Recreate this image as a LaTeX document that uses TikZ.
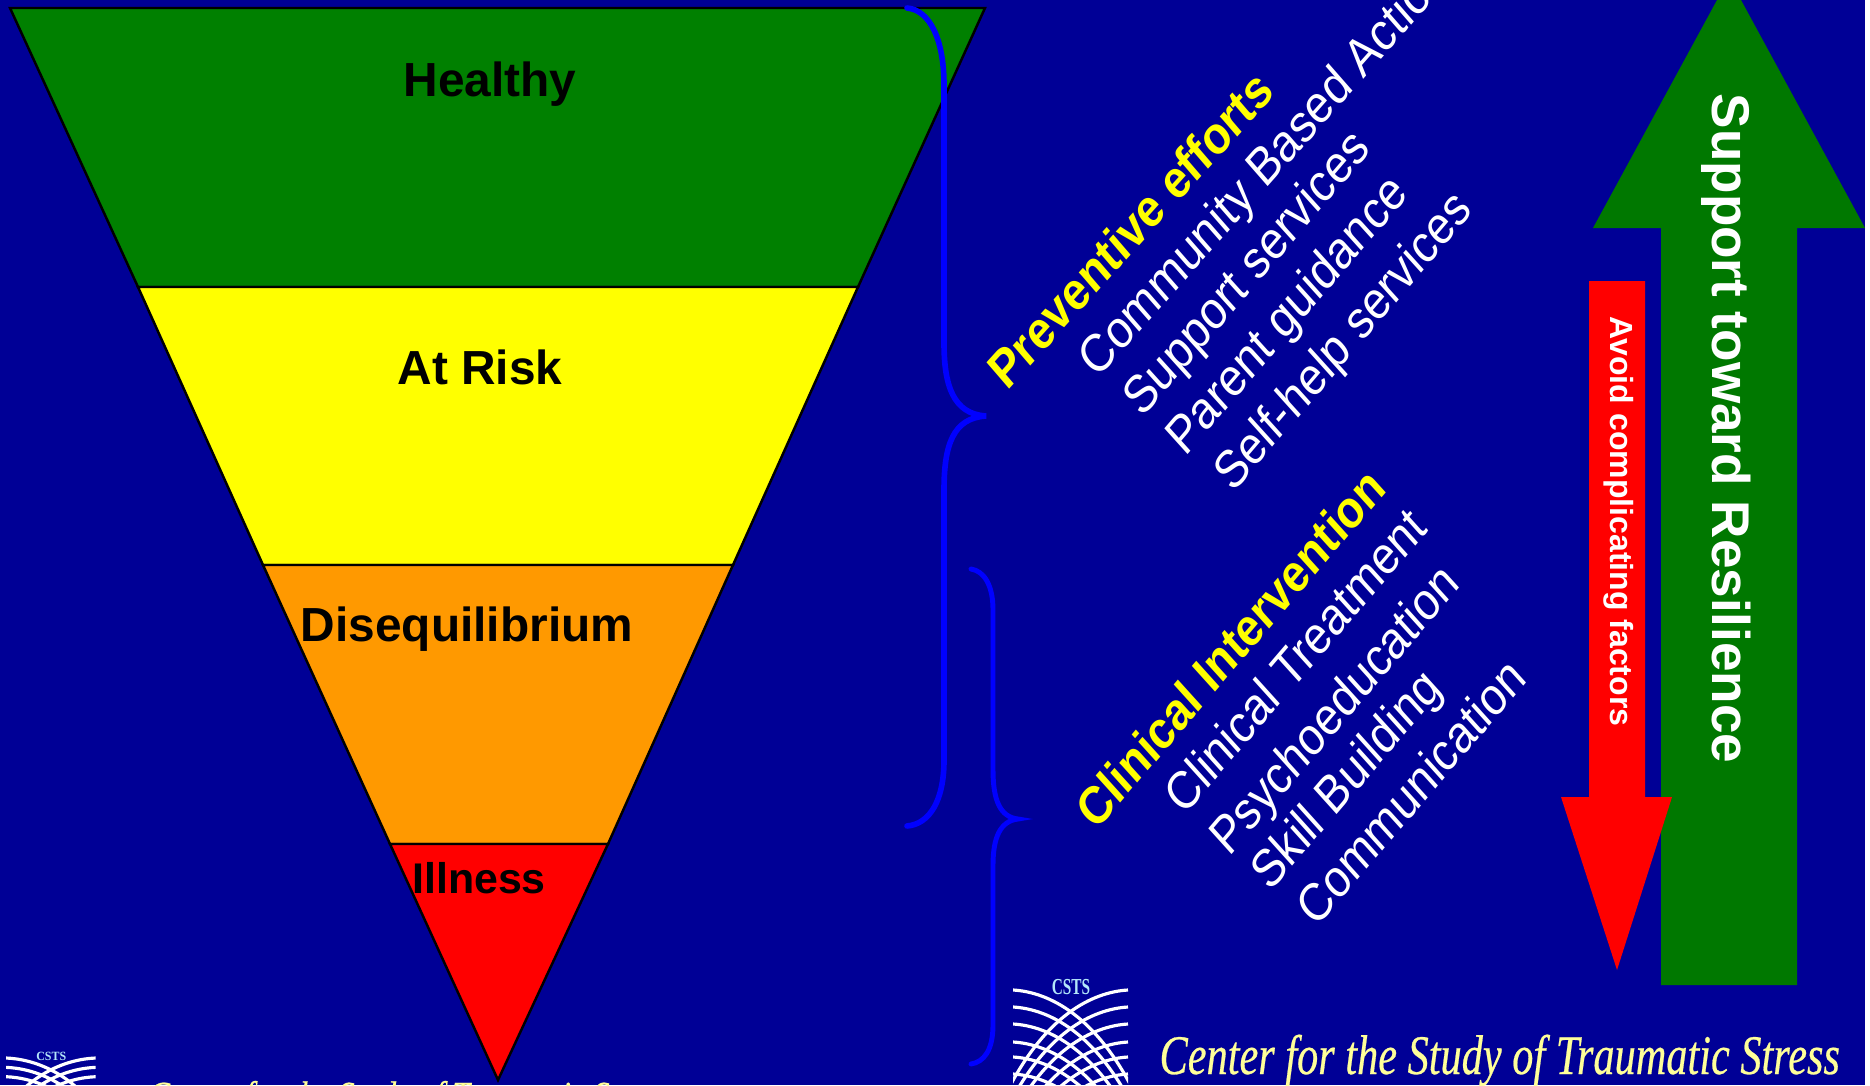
\documentclass[tikz,border=0pt]{standalone}
\usepackage{fontspec}
\setmainfont{Liberation Sans}
\newfontfamily\cstsfont[FakeBold=0.5]{Liberation Serif}
\newfontfamily\cstsmark{Liberation Serif}
\definecolor{slideblue}{RGB}{0,0,150}
\definecolor{bandgreen}{RGB}{0,128,0}
\definecolor{bandyellow}{RGB}{255,255,0}
\definecolor{bandorange}{RGB}{255,153,0}
\definecolor{cstsyellow}{RGB}{255,255,153}
\tikzset{
  band/.style={draw=black,line width=0.7pt},
  bandlabel/.style={font=\fontsize{13.6}{16}\selectfont\bfseries,text=black,inner sep=0pt},
  bracket/.style={draw=blue,line width=1.6pt,line cap=round,fill=none},
  heading/.style={font=\fontsize{14.2}{17}\selectfont\bfseries,text=bandyellow,rotate=49.5,xslant=0.13,xscale=0.94,transform shape,anchor=base west,inner sep=0pt},
  entry/.style={font=\fontsize{14.2}{17}\selectfont,text=white,rotate=49.5,xslant=0.13,xscale=0.94,transform shape,anchor=base west,inner sep=0pt},
  cstsline/.style={font=\fontsize{15.9}{19}\selectfont\cstsfont\itshape,text=cstsyellow,anchor=base west,inner sep=0pt,transform shape},
  cstslogo/.pic={
    \begin{scope}
      \clip (0,-6) rectangle (115,120);
      \foreach \k in {0,17,34,52,67,84} {
        \draw[white,line width=0.9pt] (0,\k) .. controls (35,\k+2) and (85,\k+25) .. (125,\k+110);
        \draw[white,line width=0.9pt] (115,\k) .. controls (80,\k+2) and (30,\k+25) .. (-10,\k+110);
      }
    \end{scope}
    \node[font=\fontsize{6.5}{8}\selectfont\cstsmark\bfseries,text=white!70!cyan,inner sep=0pt,xscale=0.67,transform shape] (-name) at (58,-3) {CSTS};
  }
}
\begin{document}
\begin{tikzpicture}[x=0.01cm,y=-0.01cm]
  \useasboundingbox (0,0) rectangle (1870,1085);
  \fill[white] (0,0) rectangle (1870,1085);
  \fill[slideblue] (0,0) rectangle (1865,1085);

  % funnel
  \draw[band,fill=bandgreen] (10,8) -- (985,8) -- (858,287) -- (138,287) -- cycle;
  \draw[band,fill=bandyellow] (138,287) -- (858,287) -- (733,565) -- (263,565) -- cycle;
  \draw[band,fill=bandorange] (263,565) -- (733,565) -- (608,844) -- (390,844) -- cycle;
  \draw[band,fill=red] (390,844) -- (608,844) -- (498,1080) -- cycle;

  \node[bandlabel] (healthy) at (490,84) {Healthy};
  \node[bandlabel] (atrisk) at (480,367) {At Risk};
  \node[bandlabel] (diseq) at (467,629) {Disequilibrium};
  \node[bandlabel,font=\fontsize{12.2}{15}\selectfont\bfseries] (illness) at (479,878) {Illness};

  % braces
  \draw[bracket] (907,8) .. controls (930,10) and (944,40) .. (944,85)
    -- (944,343) .. controls (944,385) and (953,414) .. (986,416)
    .. controls (953,418) and (944,445) .. (944,490)
    -- (944,760) .. controls (944,800) and (930,824) .. (907,826);
  \draw[bracket,line width=1.4pt] (971,569) .. controls (984,571) and (993,585) .. (993,610)
    -- (993,770) .. controls (993,800) and (1000,817) .. (1018,819)
    .. controls (1000,821) and (993,838) .. (993,865)
    -- (993,1025) .. controls (993,1050) and (984,1062) .. (971,1064);

  % preventive column
  \node[heading,rotate=-1.5,xscale=1.015] (prevhead) at (1007,392) {Preventive efforts};
  \node[entry,rotate=-1,xscale=1.015] (prevone) at (1097,380) {Community Based Action};
  \node[entry,xscale=1.01] (prevtwo) at (1142,419) {Support services};
  \node[entry,xscale=1.01] (prevthree) at (1185,458) {Parent guidance};
  \node[entry] (prevfour) at (1233,494) {Self-help services};

  % clinical column
  \node[heading] (clinhead) at (1096,832) {Clinical Intervention};
  \node[entry] (clinone) at (1184,817) {Clinical Treatment};
  \node[entry] (clintwo) at (1229,858) {Psychoeducation};
  \node[entry] (clinthree) at (1270,893) {Skill Building};
  \node[entry] (clinfour) at (1316,929) {Communication};

  % arrows
  \fill[bandgreen!94!black] (1729,-22) -- (1865,228) -- (1797,228) -- (1797,985) -- (1661,985) -- (1661,228) -- (1593,228) -- cycle;
  \node[font=\fontsize{15.1}{18}\selectfont\bfseries,text=white,rotate=-90,anchor=base west,inner sep=0pt] (support) at (1712,93) {Support toward Resilience};
  \fill[red] (1589,281) -- (1645,281) -- (1645,797) -- (1672,797) -- (1617,970) -- (1561,797) -- (1589,797) -- cycle;
  \node[font=\fontsize{9.1}{11}\selectfont\bfseries,text=white,rotate=-90,anchor=base west,inner sep=0pt] (avoid) at (1610,316) {Avoid complicating factors};

  % footer
  \pic[xscale=1,yscale=1] at (1013,990) {cstslogo};
  \node[cstsline,xscale=0.757] (cstsbig) at (1159,1074) {Center for the Study of Traumatic Stress};
  \pic[xscale=0.78,yscale=0.55] at (6,1058) {cstslogo};
  \node[cstsline,xscale=0.58,yscale=0.74] (cstssmall) at (148,1110) {Center for the Study of Traumatic Stress};
\end{tikzpicture}
\end{document}
